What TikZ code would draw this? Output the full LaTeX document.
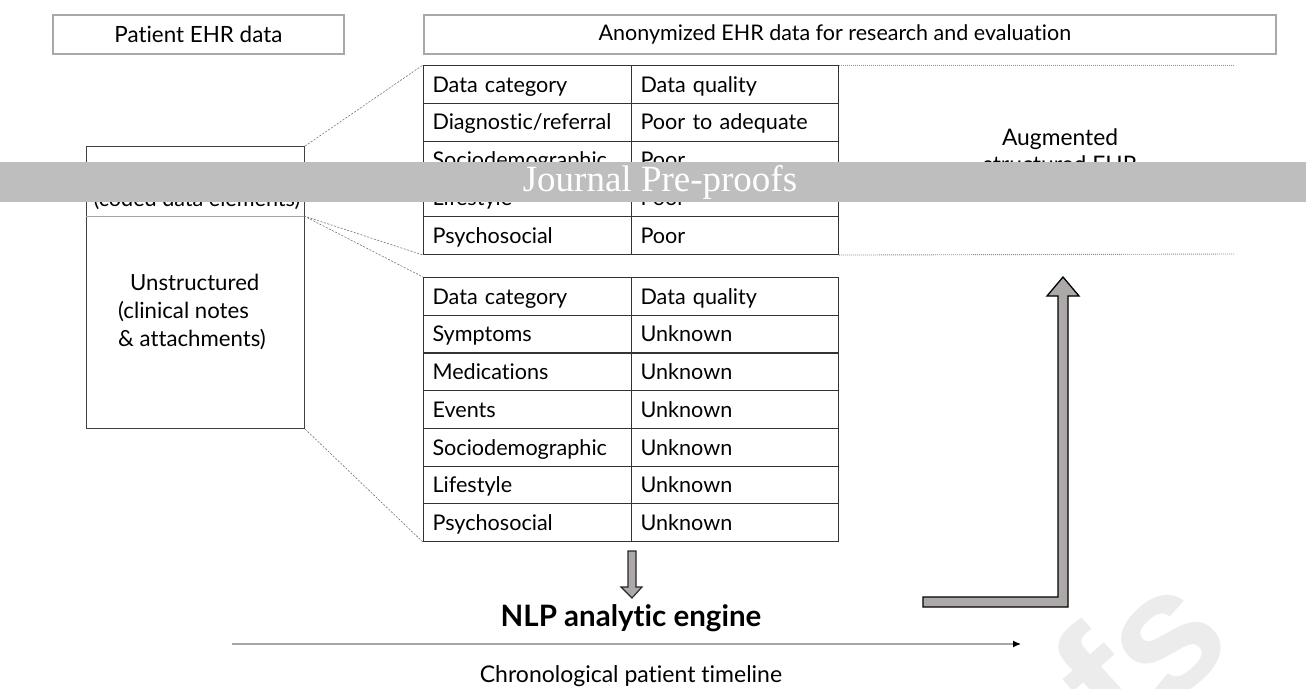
\documentclass[tikz,border=0pt]{standalone}
\usepackage{fontspec}
\setmainfont{Lato}[Ligatures={NoCommon}]
\newfontfamily\wmfont{Liberation Serif}
\newfontfamily\wmsans{Liberation Sans}
\usetikzlibrary{arrows.meta}
\definecolor{hdrgray}{HTML}{A8A8A8}
\definecolor{bannergray}{HTML}{BEBEBE}
\definecolor{arrowfill}{HTML}{ADA9A9}
\definecolor{wmgray}{HTML}{ECECEC}
\begin{document}
\begin{tikzpicture}[x=1pt,y=-1pt,
  every node/.style={font=\fontsize{21.6}{28}\selectfont},
  hdrbox/.style={draw=hdrgray, line width=1.8pt, fill=white, anchor=north west, inner sep=0pt, minimum height=39pt},
  hdrtext/.style={inner sep=0pt, font=\fontsize{22.4}{28}\selectfont},
  cellA/.style={draw=black!80, line width=1.1pt, anchor=north west, inner xsep=9pt, inner ysep=0pt, text width=190pt, align=left, minimum height=37.75pt, text height=20pt, text depth=4.5pt},
  cellB/.style={cellA, text width=189pt},
  zoomline/.style={draw=black!55, line width=0.6pt, dash pattern=on 2pt off 1.5pt},
  guideline/.style={draw=black!45, line width=0.9pt, dash pattern=on 1pt off 1pt},
  blockarrow/.style={draw=black!85, line width=1.1pt, fill=arrowfill},
  plaintext/.style={inner sep=0pt, align=center}
]
\useasboundingbox (0,0) rectangle (1306,688);
% faint watermark fragment
\begin{scope}
\clip (0,0) rectangle (1306,688);
\node[text=wmgray, rotate=42, font=\wmsans\bfseries\fontsize{175}{175}\selectfont] (wm) at (1138,652) {fs};
\end{scope}

% header boxes
\node[hdrbox, minimum width=291pt] (hdrL) at (52,14) {};
\node[hdrtext] at (hdrL.center) {Patient EHR data};
\node[hdrbox, minimum width=852pt] (hdrR) at (423,14) {};
\node[hdrtext, font=\fontsize{21.5}{28}\selectfont] at ([xshift=-15pt]hdrR.center) {Anonymized EHR data for research and evaluation};

% left EHR box
\node[draw=black!75, line width=1.1pt, anchor=north west, minimum width=218pt, minimum height=282pt, inner sep=0pt] (ehr) at (86,146) {};
\coordinate (divL) at (86,216);
\coordinate (divR) at (304,216);
\draw[black!35, line width=1pt] (divL) -- (divR);
\node[plaintext] (structured) at (197,186) {Structured\\(coded data elements)};
\node[inner sep=0pt, align=left, anchor=north west, font=\fontsize{22.2}{28}\selectfont] (unstructured) at (118,274) {\hspace*{12pt}Unstructured\\(clinical notes\\\& attachments)};

% table 1
\foreach \a/\b [count=\i] in {Data category/Data quality, Diagnostic\slash referral/Poor to adequate, Sociodemographic/Poor, Lifestyle/Poor, Psychosocial/Poor}{
  \node[cellA] (ta\i a) at (423,{65+(\i-1)*37.8}) {\a};
  \node[cellB] (ta\i b) at (631,{65+(\i-1)*37.8}) {\b};
}
% table 2
\foreach \a/\b [count=\i] in {Data category/Data quality, Symptoms/Unknown, Medications/Unknown, Events/Unknown, Sociodemographic/Unknown, Lifestyle/Unknown, Psychosocial/Unknown}{
  \node[cellA] (tb\i a) at (423,{277+(\i-1)*37.71}) {\a};
  \node[cellB] (tb\i b) at (631,{277+(\i-1)*37.71}) {\b};
}

% zoom lines
\draw[zoomline] (ehr.north east) -- (ta1a.north west);
\draw[zoomline] (divR) -- (ta5a.south west);
\draw[zoomline] (divR) -- (tb1a.north west);
\draw[zoomline] (ehr.south east) -- (tb7a.south west);

% guide lines to the right
\coordinate (gTop) at (1235,65);
\coordinate (gBot) at (1235,254);
\draw[guideline] (ta1b.north east) -- (gTop);
\draw[guideline] (ta5b.south east) -- (gBot);

% augmented text
\node[plaintext, font=\fontsize{22.8}{27}\selectfont] (aug) at (1060,151) {Augmented\\structured EHR};

% down arrow
\draw[blockarrow] (628,551) -- (636,551) -- (636,587) -- (642,587) -- (632,598) -- (621,587) -- (628,587) -- cycle;
\node[plaintext, font=\bfseries\fontsize{29.5}{32}\selectfont] (nlp) at (631,618) {NLP analytic engine};

% L arrow up
\draw[blockarrow, line width=1.3pt, draw=black] (923,597) -- (1058,597) -- (1058,296) -- (1047,296) -- (1063,277) -- (1079,296) -- (1068,296) -- (1068,607) -- (923,607) -- cycle;

% timeline
\coordinate (tlS) at (232,644);
\coordinate (tlE) at (1021,644);
\draw[black!35, line width=1.2pt, -{Latex[color=black, length=8pt, width=7pt]}] (tlS) -- (tlE);
\node[plaintext, font=\fontsize{23}{28}\selectfont] (chrono) at (631,676) {Chronological patient timeline};

% banner
\fill[bannergray] (0,162) rectangle (1306,202);
\node[text=white, inner sep=0pt, font=\wmfont\fontsize{37}{40}\selectfont] (banner) at (660,182) {Journal Pre-proofs};
\end{tikzpicture}
\end{document}
